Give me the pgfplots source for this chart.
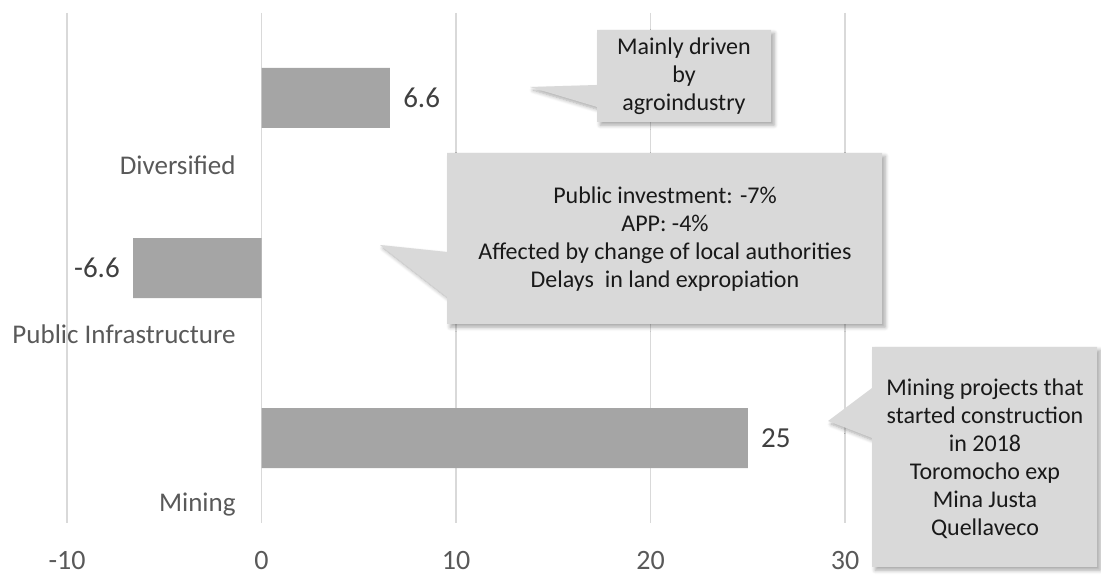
\documentclass[border=0pt]{standalone}
\usepackage{fontspec}
\setmainfont{Carlito}
\usepackage{pgfplots}
\pgfplotsset{compat=1.18}
\usetikzlibrary{shadows.blur}
\definecolor{bargray}{HTML}{A5A5A5}
\definecolor{gridgray}{HTML}{D9D9D9}
\definecolor{txtgray}{HTML}{595959}
\definecolor{lblgray}{HTML}{404040}
\definecolor{callgray}{HTML}{D9D9D9}
\begin{document}
\begin{tikzpicture}
\useasboundingbox (-33.5pt,-26.5pt) rectangle (517pt,261.5pt);
\begin{axis}[
  at={(0,0)}, anchor=south west,
  scale only axis, width=389pt, height=255pt,
  xbar, bar width=30pt,
  xmin=-10, xmax=30, ymin=-0.5, ymax=2.5,
  y dir=reverse,
  xtick={-10,0,10,20,30},
  ytick={0.394,1.39,2.39},
  yticklabels={Diversified,Public Infrastructure,Mining},
  yticklabel style={anchor=east, inner xsep=0pt, xshift=84.5pt, text=txtgray, font=\fontsize{13.5}{16}\selectfont},
  xticklabel style={text=txtgray, font=\fontsize{14}{16}\selectfont, yshift=-10.5pt},
  /pgf/number format/assume math mode=true,
  xmajorgrids=true, ymajorgrids=false,
  grid style={gridgray, line width=0.8pt},
  axis line style={draw=none},
  major tick length=0pt,
  nodes near coords,
  nodes near coords align={horizontal},
  every node near coord/.append style={text=lblgray, font=\fontsize{14.5}{16}\selectfont, inner xsep=6.5pt},
]
\addplot[fill=bargray, draw=none] coordinates {(6.6,0) (-6.6,1) (25,2)};
\end{axis}
\begin{scope}[shift={(-33.5pt,261.5pt)}, x=0.5pt, y=-0.5pt]
  \tikzset{callout/.style={fill=callgray, blur shadow={shadow xshift=1.6pt, shadow yshift=-1.6pt, shadow blur steps=6, shadow opacity=35}}}
  \tikzset{ctext/.style={align=center, text=black!90, font=\fontsize{12}{14}\selectfont}}
  \fill[callout] (597,30) -- (771,30) -- (771,122) -- (597,122) -- (597,107) -- (530,87) -- (597,85) -- cycle;
  \node[ctext] at (684,76) {Mainly driven\\by\\agroindustry};
  \fill[callout] (447,153) -- (882,153) -- (882,324) -- (447,324) -- (447,297) -- (380,245) -- (447,252) -- cycle;
  \node[ctext] at (665,239) {Public investment: -7\%\\APP: -4\%\\Affected by change of local authorities\\Delays\ \ in land expropiation};
  \fill[callout] (872,347) -- (1097,347) -- (1097,567) -- (872,567) -- (872,438) -- (828,421) -- (872,388) -- cycle;
  \node[ctext] at (985,459) {Mining projects that\\started construction\\in 2018\\Toromocho exp\\Mina Justa\\Quellaveco};
\end{scope}
\end{tikzpicture}
\end{document}
